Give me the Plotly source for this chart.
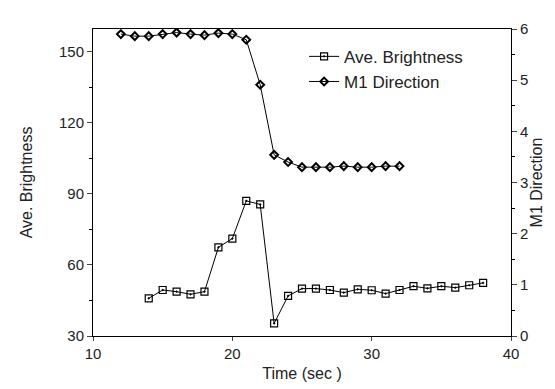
import plotly.graph_objects as go

time_bright = [14, 15, 16, 17, 18, 19, 20, 21, 22, 23, 24, 25, 26, 27, 28, 29, 30, 31, 32, 33, 34, 35, 36, 37, 38]
ave_brightness = [45.9, 49.4, 48.7, 47.6, 48.7, 67.4, 71.1, 87.0, 85.5, 35.3, 46.9, 50.0, 50.0, 49.4, 48.3, 49.7, 49.3, 47.9, 49.4, 51.0, 50.1, 51.0, 50.4, 51.4, 52.4]

time_dir = [12, 13, 14, 15, 16, 17, 18, 19, 20, 21, 22, 23, 24, 25, 26, 27, 28, 29, 30, 31, 32]
m1_direction = [5.90, 5.86, 5.86, 5.90, 5.93, 5.90, 5.88, 5.92, 5.90, 5.79, 4.91, 3.54, 3.40, 3.30, 3.30, 3.30, 3.32, 3.30, 3.30, 3.32, 3.32]

x_ticks = [10, 20, 30, 40]
left_ticks = [30, 60, 90, 120, 150]
right_ticks = [0, 1, 2, 3, 4, 5, 6]

font_family = "Liberation Sans, Arial, sans-serif"

fig = go.Figure()
fig.add_trace(go.Scatter(
    x=time_bright, y=ave_brightness, name="Ave. Brightness",
    mode="lines+markers",
    line=dict(color="black", width=1),
    marker=dict(symbol="square-open-dot", size=7, color="black", line=dict(width=1.2)),
    yaxis="y",
))
fig.add_trace(go.Scatter(
    x=time_dir, y=m1_direction, name="M1 Direction",
    mode="lines+markers",
    line=dict(color="black", width=1),
    marker=dict(symbol="diamond-open", size=6, color="black", line=dict(width=2)),
    yaxis="y2",
))

fig.update_layout(
    width=555, height=389,
    margin=dict(l=85, r=52, t=12, b=61),
    paper_bgcolor="white", plot_bgcolor="white",
    font=dict(family=font_family, size=15, color="#222"),
    showlegend=True,
    legend=dict(x=0.505, y=0.968, xanchor="left", yanchor="top",
                bgcolor="rgba(0,0,0,0)", font=dict(size=17), itemwidth=30,
                tracegroupgap=1),
    xaxis=dict(range=[10, 40], tickvals=x_ticks, ticks="outside", ticklen=4,
               showline=True, linecolor="black", linewidth=1, mirror=True,
               showgrid=False, zeroline=False,
               title=dict(text="Time (sec )", standoff=6, font=dict(size=16))),
    yaxis=dict(range=[30, 159.5], tickvals=left_ticks, ticks="outside", ticklen=5,
               showline=True, linecolor="black", linewidth=1,
               showgrid=False, zeroline=False,
               minor=dict(tickvals=[45, 75, 105, 135], ticks="outside", ticklen=3, tickcolor="black"),
               title=dict(text="Ave. Brightness", standoff=22, font=dict(size=16))),
    yaxis2=dict(range=[0, 6], tickvals=right_ticks, ticks="outside", ticklen=5,
                overlaying="y", side="right",
                showline=True, linecolor="black", linewidth=1,
                showgrid=False, zeroline=False,
                minor=dict(dtick=0.5, ticks="outside", ticklen=3, tickcolor="black"),
                title=dict(text="M1 Direction", standoff=2, font=dict(size=16))),
)

fig.write_html("out.html")
